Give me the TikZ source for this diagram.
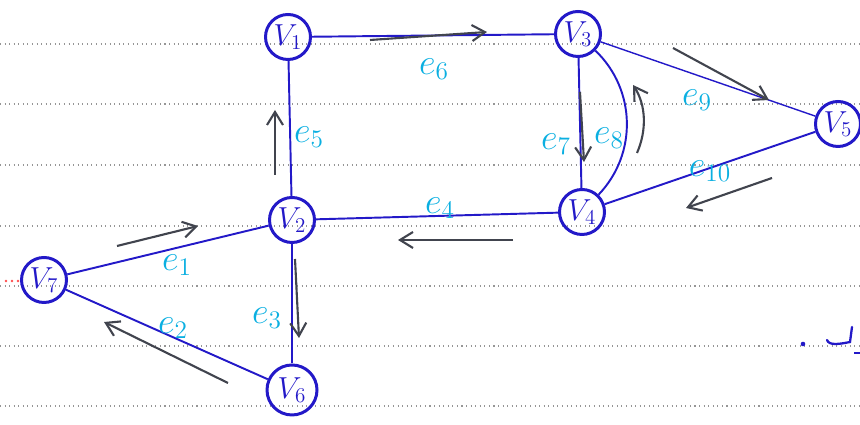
\documentclass[tikz,border=0pt]{standalone}
\usepackage{amsmath}
\usetikzlibrary{arrows.meta,positioning}
\definecolor{ink}{RGB}{35,25,200}
\definecolor{lbl}{RGB}{10,175,225}
\definecolor{pencil}{RGB}{65,68,78}
\definecolor{rule}{RGB}{150,150,150}

\begin{document}
\begin{tikzpicture}[every node/.style={font=\Large},
  vtx/.style={draw=ink,text=ink,circle,line width=1.7pt,minimum size=0.9cm,inner sep=0pt,font=\LARGE},
  edge/.style={draw=ink,line width=1.1pt},
  elbl/.style={text=lbl,font=\huge},
  dir/.style={draw=pencil,line width=1.2pt,-{Straight Barb[length=2.6mm,width=3.2mm]}}]
\useasboundingbox (0,0) rectangle (17.2,8.5);
% ruled paper
\foreach \y in {7.62,6.42,5.20,3.98,2.78,1.58,0.38}
  \draw[rule,dotted,line width=.6pt] (0,\y)--(17.2,\y);
% vertices
\node[vtx] (v1) at (5.76,7.76) {$V_1$};
\node[vtx] (v3) at (11.56,7.82) {$V_3$};
\node[vtx] (v5) at (16.76,6.02) {$V_5$};
\node[vtx] (v2) at (5.84,4.10) {$V_2$};
\node[vtx] (v4) at (11.64,4.26) {$V_4$};
\node[vtx] (v7) at (0.88,2.90) {$V_7$};
\node[vtx,minimum size=1cm] (v6) at (5.84,0.70) {$V_6$};
% edges
\draw[edge] (v7)--(v2);
\draw[edge] (v7)--(v6);
\draw[edge] (v2)--(v6);
\draw[edge] (v2)--(v4);
\draw[edge] (v2)--(v1);
\draw[edge] (v1)--(v3);
\draw[edge] (v3)--(v4);
\draw[edge] (v3) to[bend left=45] (v4);
\draw[edge,line width=.8pt] (v3)--(v5);
\draw[edge] (v5)--(v4);
% edge names
\node[elbl] (l1) at (3.54,3.20) {$e_1$};
\node[elbl] (l2) at (3.46,1.94) {$e_2$};
\node[elbl] (l3) at (5.34,2.14) {$e_3$};
\node[elbl] (l4) at (8.80,4.34) {$e_4$};
\node[elbl] (l5) at (6.18,5.76) {$e_5$};
\node[elbl] (l6) at (8.68,7.12) {$e_6$};
\node[elbl] (l7) at (11.12,5.62) {$e_7$};
\node[elbl] (l8) at (12.18,5.74) {$e_8$};
\node[elbl] (l9) at (13.94,6.50) {$e_9$};
\node[elbl] (l10) at (14.20,5.08) {$e_{10}$};
% directions
\draw[dir] (2.34,3.58)--(3.96,3.98);
\draw[dir] (4.56,0.84)--(2.08,2.06);
\draw[dir] (5.90,3.32)--(5.98,1.74);
\draw[dir] (10.26,3.70)--(7.96,3.70);
\draw[dir] (5.50,5.00)--(5.50,6.30);
\draw[dir] (7.40,7.70)--(9.74,7.86);
\draw[dir] (11.60,6.66)--(11.68,5.26);
\draw[dir] (12.74,5.44) .. controls (12.94,5.90) and (12.92,6.40) .. (12.66,6.80);
\draw[dir] (13.46,7.54)--(15.38,6.50);
\draw[dir] (15.44,4.94)--(13.72,4.34);
% margin marks
\fill[ink] (16.06,1.62) circle (1.3pt);
\draw[ink,line width=1.3pt,line cap=round] (16.54,1.70) .. controls (16.58,1.58) and (16.80,1.62) .. (17.00,1.66) -- (17.04,1.96);
\draw[ink,line width=1.1pt] (17.08,1.44)--(17.2,1.44);
\foreach \x in {0.12,0.24,0.36}
  \fill[red!70] (\x,2.88) circle (.8pt);
\end{tikzpicture}
\end{document}
